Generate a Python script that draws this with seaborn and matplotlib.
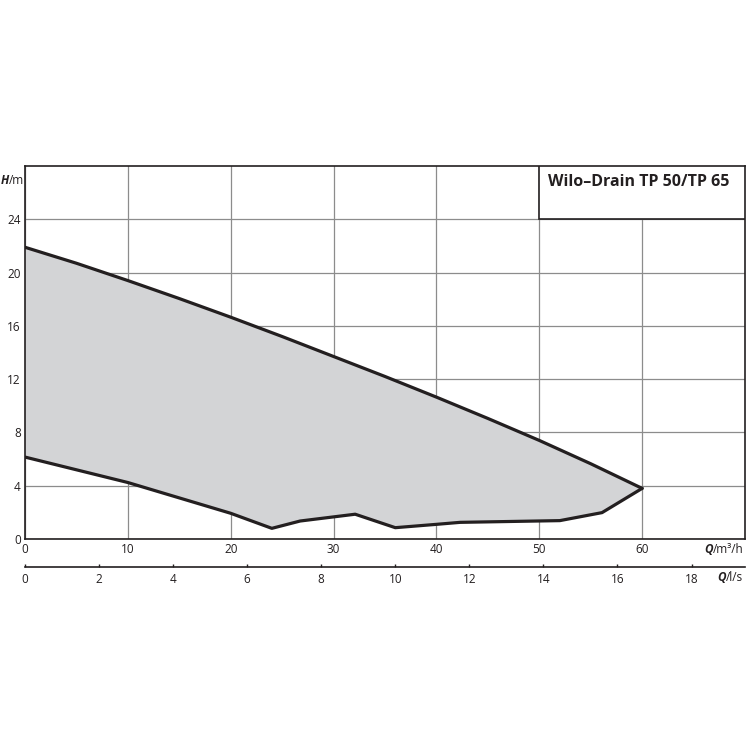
import numpy as np
import pandas as pd
from matplotlib import pyplot as plt
from matplotlib.patches import Rectangle
import seaborn as sns

# upper limit curve (max speed)
q_top = [0, 5, 10, 15, 20, 25, 30, 35, 40, 45, 50, 55, 60]
h_top = [21.9, 20.7, 19.4, 18.05, 16.65, 15.2, 13.7, 12.2, 10.65, 9.05, 7.4, 5.65, 3.8]

# lower limit curve
q_low = [0, 10, 20, 24.0, 26.75, 32.1, 36.0, 40.0, 42.3, 52.0, 56.1, 60]
h_low = [6.15, 4.24, 1.93, 0.8, 1.35, 1.86, 0.85, 1.1, 1.25, 1.38, 1.98, 3.8]

x_ticks = [0, 10, 20, 30, 40, 50, 60]
y_ticks = [0, 4, 8, 12, 16, 20, 24]
ls_ticks = [0, 2, 4, 6, 8, 10, 12, 14, 16, 18]
title = "Wilo\u2013Drain TP 50/TP 65"

sns.set_style("white")
plt.rcParams['font.family'] = ['Open Sans', 'DejaVu Sans']

fig = plt.figure(figsize=(7.5, 7.5), dpi=100)
ax = fig.add_axes([25/750, 1-539/750, 720/750, 373/750])

top = pd.DataFrame({'Q': q_top, 'H': h_top})
low = pd.DataFrame({'Q': q_low, 'H': h_low})

# filled operating range
poly_x = q_top + q_low[::-1]
poly_y = h_top + h_low[::-1]
ax.fill(poly_x, poly_y, color='#d3d4d6', lw=0, zorder=1)

sns.lineplot(data=top, x='Q', y='H', ax=ax, color='#231f20', lw=2.3, sort=False, zorder=3)
sns.lineplot(data=low, x='Q', y='H', ax=ax, color='#231f20', lw=2.3, sort=False, zorder=3)

ax.set_xlim(0, 70)
ax.set_ylim(0, 28)
ax.set_xticks(x_ticks)
ax.set_yticks(y_ticks)
ax.grid(True, color='#8c8c8c', lw=0.9, zorder=0)
ax.set_axisbelow(True)
ax.tick_params(axis='both', length=0, labelsize=8.5, colors='#231f20', pad=3)
ax.set_xlabel('')
ax.set_ylabel('')
for s in ax.spines.values():
    s.set_color('#231f20')
    s.set_linewidth(1.2)

# title box
ax.add_patch(Rectangle((50, 24), 20, 4, facecolor='white', edgecolor='#231f20',
                       lw=1.2, zorder=4))
ax.text(50.8, 26.8, title, fontsize=11.5, fontweight='bold', color='#231f20',
        ha='left', va='center', zorder=5)

# axis unit labels
ax.text(-0.022, 0.96, 'H', transform=ax.transAxes, fontsize=8.5, fontweight='bold',
        fontstyle='italic', ha='right', va='center', color='#231f20')
ax.text(-0.022, 0.96, '/m', transform=ax.transAxes, fontsize=8.5,
        ha='left', va='center', color='#231f20')

ax.text(0.955, -0.028, 'Q', transform=ax.transAxes, fontsize=8.5, fontweight='bold',
        fontstyle='italic', ha='right', va='center', color='#231f20')
ax.text(0.955, -0.028, '/m\u00b3/h', transform=ax.transAxes, fontsize=8.5,
        ha='left', va='center', color='#231f20')

# second flow axis in l/s
sec = ax.secondary_xaxis(-0.075, functions=(lambda q: q / 3.6, lambda l: l * 3.6))
sec.set_xticks(ls_ticks)
sec.tick_params(direction='in', length=2, width=1, labelsize=8.5, colors='#231f20', pad=4)
sec.spines['bottom'].set_color('#231f20')
sec.spines['bottom'].set_linewidth(1.2)

ax.text(0.973, -0.104, 'Q', transform=ax.transAxes, fontsize=8.5, fontweight='bold',
        fontstyle='italic', ha='right', va='center', color='#231f20')
ax.text(0.973, -0.104, '/l/s', transform=ax.transAxes, fontsize=8.5,
        ha='left', va='center', color='#231f20')

fig.savefig('out.png', dpi=100, facecolor='white')
